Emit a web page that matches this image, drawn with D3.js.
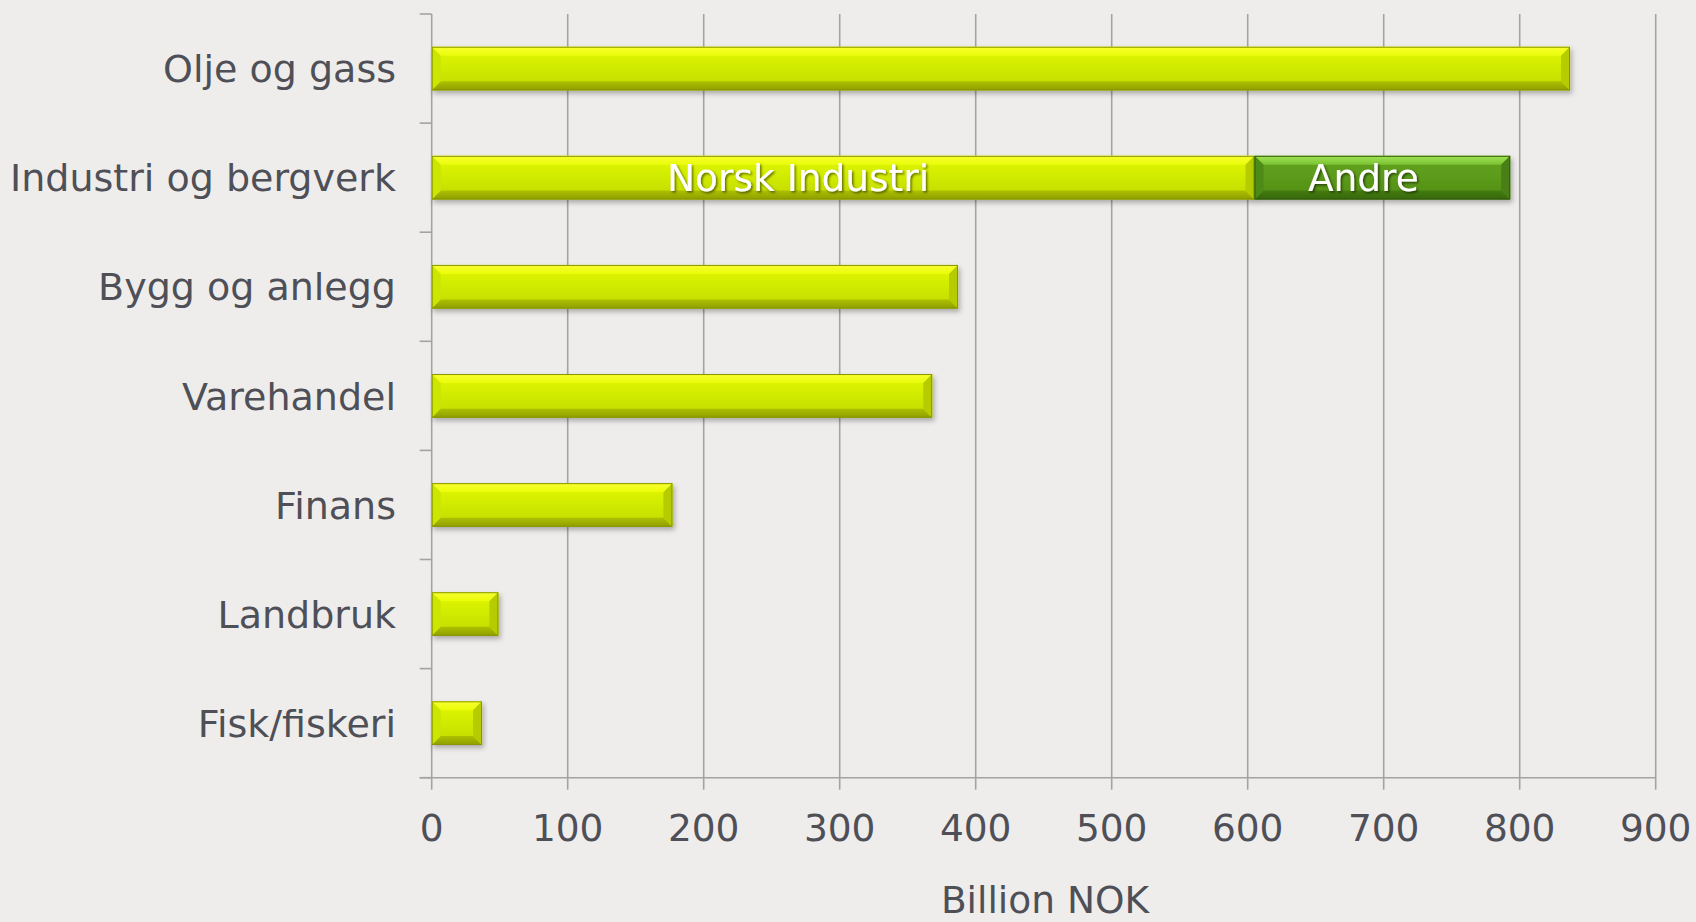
<!DOCTYPE html>
<html>
<head>
<meta charset="utf-8">
<script src="https://cdn.jsdelivr.net/npm/d3@7"></script>
<style>
  html, body { margin: 0; padding: 0; background: #eeedeb; }
  svg { display: block; }
  text { font-family: "DejaVu Sans", Verdana, sans-serif; }
</style>
</head>
<body>
<svg id="chart" width="1696" height="922"></svg>
<script>
// ---- data ----
const categories = ["Olje og gass", "Industri og bergverk", "Bygg og anlegg", "Varehandel", "Finans", "Landbruk", "Fisk/fiskeri"];
const mainValues = [837, 605, 387, 368, 177, 49, 37];
const otherValues = [0, 188, 0, 0, 0, 0, 0];
const segmentLabels = ["Norsk Industri", "Andre"];
const xTicks = [0, 100, 200, 300, 400, 500, 600, 700, 800, 900];
const xTitle = "Billion NOK";

(function () {
// ---- layout ----
const W = 1696, H = 922;
const pLeft = 431.7, pRight = 1655.7, pTop = 14, pBottom = 777.7;
const svg = d3.select("#chart");
svg.append("rect").attr("width", W).attr("height", H).attr("fill", "#eeedeb");

const x = d3.scaleLinear().domain([0, 900]).range([pLeft, pRight]);
const y = d3.scaleBand().domain(categories).range([pTop, pBottom]).paddingInner(0.6).paddingOuter(0.3);

const defs = svg.append("defs");
const f = defs.append("filter").attr("id", "shadow").attr("x", "-10%").attr("y", "-30%").attr("width", "120%").attr("height", "170%");
f.append("feDropShadow").attr("dx", 2).attr("dy", 3).attr("stdDeviation", 2.5).attr("flood-color", "#000").attr("flood-opacity", 0.28);
const tf = defs.append("filter").attr("id", "tshadow").attr("x", "-10%").attr("y", "-30%").attr("width", "120%").attr("height", "170%");
tf.append("feDropShadow").attr("dx", 1.5).attr("dy", 1.5).attr("stdDeviation", 1).attr("flood-color", "#000").attr("flood-opacity", 0.55);

function grad(id, stops) {
  const g = defs.append("linearGradient").attr("id", id).attr("x1", 0).attr("y1", 0).attr("x2", 0).attr("y2", 1);
  stops.forEach(s => g.append("stop").attr("offset", s[0]).attr("stop-color", s[1]));
}
grad("yMain", [[0, "#e4f800"], [0.45, "#d2ec00"], [1, "#c0d800"]]);
grad("yTop", [[0, "#f8ff30"], [1, "#eafc08"]]);
grad("yBot", [[0, "#adc000"], [1, "#8f9e00"]]);
grad("gMain", [[0, "#64a41e"], [0.5, "#5b9a1a"], [1, "#528d16"]]);
grad("gTop", [[0, "#a2e455"], [1, "#7ac232"]]);
grad("gBot", [[0, "#447c12"], [1, "#36670d"]]);

const yellow = { main: "url(#yMain)", top: "url(#yTop)", bot: "url(#yBot)", side: "#cce600", side2: "#b6cc00", stroke: "#879600" };
const green = { main: "url(#gMain)", top: "url(#gTop)", bot: "url(#gBot)", side: "#4e8a16", side2: "#487f13", stroke: "#335d0e" };

// ---- gridlines ----
const grid = svg.append("g");
grid.selectAll("line.v").data(xTicks).join("line")
  .attr("x1", d => x(d)).attr("x2", d => x(d))
  .attr("y1", pTop).attr("y2", pBottom + 12)
  .attr("stroke", "#a3a3a3").attr("stroke-width", 1.6);
grid.append("line").attr("x1", pLeft - 12).attr("x2", pRight).attr("y1", pBottom).attr("y2", pBottom)
  .attr("stroke", "#a3a3a3").attr("stroke-width", 1.6);
const bounds = categories.map(c => y(c) - y.step() * y.paddingInner() / 2).concat([pBottom]);
grid.selectAll("line.h").data(bounds).join("line")
  .attr("x1", pLeft - 12).attr("x2", pLeft)
  .attr("y1", d => d).attr("y2", d => d)
  .attr("stroke", "#a3a3a3").attr("stroke-width", 1.6);

// ---- bars ----
function bevelBar(g, x0, x1, y0, h, c) {
  const b = Math.min(9, (x1 - x0) / 3, h / 3);
  const y1 = y0 + h;
  const bar = g.append("g").attr("filter", "url(#shadow)");
  bar.append("rect").attr("x", x0).attr("y", y0).attr("width", x1 - x0).attr("height", h).attr("fill", c.main);
  const pts = a => a.map(p => p.join(",")).join(" ");
  bar.append("polygon").attr("points", pts([[x0, y0], [x1, y0], [x1 - b, y0 + b], [x0 + b, y0 + b]])).attr("fill", c.top);
  bar.append("polygon").attr("points", pts([[x0, y1], [x1, y1], [x1 - b, y1 - b], [x0 + b, y1 - b]])).attr("fill", c.bot);
  bar.append("polygon").attr("points", pts([[x0, y0], [x0 + b, y0 + b], [x0 + b, y1 - b], [x0, y1]])).attr("fill", c.side);
  bar.append("polygon").attr("points", pts([[x1, y0], [x1 - b, y0 + b], [x1 - b, y1 - b], [x1, y1]])).attr("fill", c.side2);
  bar.append("rect").attr("x", x0 + 0.5).attr("y", y0 + 0.5).attr("width", x1 - x0 - 1).attr("height", h - 1)
    .attr("fill", "none").attr("stroke", c.stroke).attr("stroke-width", 1);
}

const bars = svg.append("g");
categories.forEach((c, i) => {
  bevelBar(bars, x(0), x(mainValues[i]), y(c), y.bandwidth(), yellow);
  if (otherValues[i] > 0) {
    bevelBar(bars, x(mainValues[i]), x(mainValues[i] + otherValues[i]), y(c), y.bandwidth(), green);
  }
});

// segment labels
const iInd = otherValues.findIndex(v => v > 0);
const cy = y(categories[iInd]) + y.bandwidth() / 2;
const segText = svg.append("g").attr("filter", "url(#tshadow)");
segText.append("text")
  .attr("x", (x(0) + x(mainValues[iInd])) / 2 - 45).attr("y", cy).attr("dy", "0.36em")
  .attr("text-anchor", "middle").attr("font-size", 37.5).attr("fill", "#ffffff")
  .text(segmentLabels[0]);
segText.append("text")
  .attr("x", (x(mainValues[iInd]) + x(mainValues[iInd] + otherValues[iInd])) / 2 - 19).attr("y", cy).attr("dy", "0.36em")
  .attr("text-anchor", "middle").attr("font-size", 37.5).attr("fill", "#ffffff")
  .text(segmentLabels[1]);

// ---- labels ----
const textColor = "#4f4f57";
svg.append("g").selectAll("text").data(categories).join("text")
  .attr("x", 396).attr("y", d => y(d) + y.bandwidth() / 2).attr("dy", "0.36em")
  .attr("text-anchor", "end").attr("font-size", 38).attr("fill", textColor)
  .text(d => d);

svg.append("g").selectAll("text").data(xTicks).join("text")
  .attr("x", d => x(d)).attr("y", 841)
  .attr("text-anchor", "middle").attr("font-size", 37.5).attr("fill", textColor)
  .text(d => d);

svg.append("text").attr("x", 1045).attr("y", 913)
  .attr("text-anchor", "middle").attr("font-size", 37.5).attr("fill", textColor)
  .text(xTitle);
})();
</script>
</body>
</html>
